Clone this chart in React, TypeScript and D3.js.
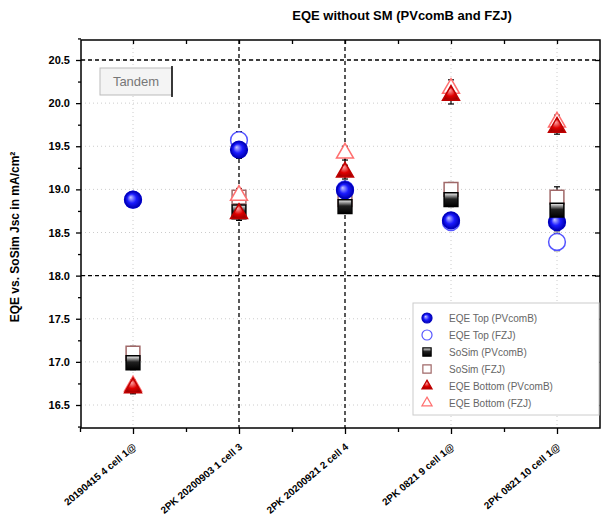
import React, { useEffect, useRef } from "react";
import * as d3 from "d3";

const categories = [
  "20190415 4 cell 1@",
  "2PK 20200903 1 cell 3",
  "2PK 20200921 2 cell 4",
  "2PK 0821 9 cell 1@",
  "2PK 0821 10 cell 1@",
];
const yTicks = [16.5, 17.0, 17.5, 18.0, 18.5, 19.0, 19.5, 20.0, 20.5];

const eqeTopPV = [18.88, 19.46, 18.99, 18.64, 18.62];
const eqeTopFZJ = [18.88, 19.57, 19.0, 18.62, 18.39];
const soSimPV = [16.99, 18.74, 18.8, 18.88, 18.76];
const soSimFZJ = [17.1, 18.91, 18.88, 19.0, 18.91];
const eqeBotPV = [16.7, 18.72, 19.2, 20.09, 19.72];
const eqeBotFZJ = [16.72, 18.93, 19.42, 20.17, 19.78];
const errTop = [0.08, 0.1, 0.08, 0.06, 0.1];
const errSoSim = [0.08, 0.08, 0.06, 0.08, 0.12];
const errBot = [0.07, 0.08, 0.08, 0.1, 0.08];

export default function App() {
  const ref = useRef<SVGSVGElement>(null);

  useEffect(() => {
    document.body.style.margin = "0";
    const svg = d3.select(ref.current);
    svg.selectAll("*").remove();

    const left = 81, right = 600, top = 40, bottom = 428;
    const x = d3.scaleLinear().domain([0.5, 5.5]).range([80, 610]);
    const y = d3.scaleLinear().domain([16.5, 20.5]).range([405, 60]);
    const font = "Liberation Sans, Arial, sans-serif";

    const defs = svg.append("defs");
    const rg = defs.append("radialGradient").attr("id", "gBlue").attr("fx", "0.35").attr("fy", "0.35");
    rg.append("stop").attr("offset", "0%").attr("stop-color", "#c8c8ff");
    rg.append("stop").attr("offset", "55%").attr("stop-color", "#1a1aff");
    rg.append("stop").attr("offset", "100%").attr("stop-color", "#0000b0");
    const lg = defs.append("linearGradient").attr("id", "gBlack").attr("x1", 0).attr("y1", 0).attr("x2", 0).attr("y2", 1);
    lg.append("stop").attr("offset", "0%").attr("stop-color", "#ffffff");
    lg.append("stop").attr("offset", "45%").attr("stop-color", "#202020");
    lg.append("stop").attr("offset", "100%").attr("stop-color", "#000");
    const rr = defs.append("radialGradient").attr("id", "gRed").attr("fx", "0.4").attr("fy", "0.3");
    rr.append("stop").attr("offset", "0%").attr("stop-color", "#ffb0b0");
    rr.append("stop").attr("offset", "60%").attr("stop-color", "#e00000");
    rr.append("stop").attr("offset", "100%").attr("stop-color", "#a00000");

    // grid
    const g = svg.append("g");
    g.selectAll(".hg").data(yTicks).join("line")
      .attr("x1", left).attr("x2", right)
      .attr("y1", d => y(d)).attr("y2", d => y(d))
      .attr("stroke", "#ccc").attr("stroke-dasharray", "1,3");
    g.selectAll(".vg").data([1, 4, 5]).join("line")
      .attr("x1", d => x(d)).attr("x2", d => x(d))
      .attr("y1", top).attr("y2", bottom)
      .attr("stroke", "#ccc").attr("stroke-dasharray", "1,3");

    // dashed reference lines
    g.selectAll(".hd").data([20.5, 18.0]).join("line")
      .attr("x1", left).attr("x2", right)
      .attr("y1", d => y(d)).attr("y2", d => y(d))
      .attr("stroke", "#000").attr("stroke-width", 1.3).attr("stroke-dasharray", "4,3");
    g.selectAll(".vd").data([2, 3]).join("line")
      .attr("x1", d => x(d)).attr("x2", d => x(d))
      .attr("y1", top).attr("y2", bottom)
      .attr("stroke", "#000").attr("stroke-width", 1.3).attr("stroke-dasharray", "4,3");

    // frame and axes
    svg.append("rect").attr("x", left).attr("y", top).attr("width", right - left).attr("height", bottom - top)
      .attr("fill", "none").attr("stroke", "#000").attr("stroke-width", 1.5);

    const minorY = d3.range(16.25, 20.76, 0.5);
    svg.append("g").attr("transform", `translate(${left},0)`)
      .call(d3.axisLeft(y).tickValues(yTicks).tickFormat(d3.format(".1f")).tickSize(5).tickPadding(6))
      .call(a => a.select(".domain").remove())
      .call(a => a.selectAll("text").attr("font-family", font).attr("font-size", 11).attr("font-weight", "bold"));
    svg.append("g").attr("transform", `translate(${left},0)`)
      .call(d3.axisLeft(y).tickValues(minorY).tickFormat(() => "").tickSize(3))
      .call(a => a.select(".domain").remove());
    svg.append("g").attr("transform", `translate(${right},0)`)
      .call(d3.axisLeft(y).tickValues(yTicks).tickFormat(() => "").tickSize(5))
      .call(a => a.select(".domain").remove());

    const xTicks = [1, 2, 3, 4, 5];
    const xb = svg.append("g").attr("transform", `translate(0,${bottom})`)
      .call(d3.axisBottom(x).tickValues(xTicks).tickFormat(() => "").tickSize(6))
      .call(a => a.select(".domain").remove());
    svg.append("g").attr("transform", `translate(0,${bottom})`)
      .call(d3.axisBottom(x).tickValues([0.5, 1.5, 2.5, 3.5, 4.5]).tickFormat(() => "").tickSize(4))
      .call(a => a.select(".domain").remove());
    svg.append("g").attr("transform", `translate(0,${top})`)
      .call(d3.axisBottom(x).tickValues([1, 1.5, 2, 2.5, 3, 3.5, 4, 4.5, 5]).tickFormat(() => "").tickSize(4))
      .call(a => a.select(".domain").remove());
    svg.selectAll(".tick line").attr("stroke-width", 1.3);

    xb.selectAll(".xl").data(categories).join("text")
      .attr("transform", (d, i) => `translate(${x(i + 1) + 4},${20}) rotate(-40)`)
      .attr("text-anchor", "end")
      .attr("font-family", font).attr("font-size", 10).attr("font-weight", "bold")
      .attr("fill", "#000")
      .text(d => d);

    // error bars
    const allSeries = [
      { v: eqeTopFZJ, e: errTop }, { v: eqeTopPV, e: errTop },
      { v: soSimFZJ, e: errSoSim }, { v: soSimPV, e: errSoSim },
      { v: eqeBotFZJ, e: errBot }, { v: eqeBotPV, e: errBot },
    ];
    const eg = svg.append("g");
    allSeries.forEach(s => {
      s.v.forEach((v, i) => {
        const cx = x(i + 1);
        eg.append("line").attr("x1", cx).attr("x2", cx).attr("y1", y(v - s.e[i])).attr("y2", y(v + s.e[i]))
          .attr("stroke", "#000").attr("stroke-width", 1.2);
        [v - s.e[i], v + s.e[i]].forEach(c => eg.append("line")
          .attr("x1", cx - 3).attr("x2", cx + 3).attr("y1", y(c)).attr("y2", y(c))
          .attr("stroke", "#000").attr("stroke-width", 1.2));
      });
    });

    const sym = {
      circle: d3.symbol(d3.symbolCircle, 220)(),
      square: d3.symbol(d3.symbolSquare, 190)(),
      triangle: d3.symbol(d3.symbolTriangle, 125)(),
    };
    const styles = [
      { name: "EQE Top (PVcomB)", shape: sym.circle, fill: "url(#gBlue)", stroke: "#0000c0" },
      { name: "EQE Top (FZJ)", shape: sym.circle, fill: "#fff", stroke: "#5555ff" },
      { name: "SoSim (PVcomB)", shape: sym.square, fill: "url(#gBlack)", stroke: "#000" },
      { name: "SoSim (FZJ)", shape: sym.square, fill: "#fff", stroke: "#a06868" },
      { name: "EQE Bottom (PVcomB)", shape: sym.triangle, fill: "url(#gRed)", stroke: "#c00000" },
      { name: "EQE Bottom (FZJ)", shape: sym.triangle, fill: "#fff", stroke: "#ff7070" },
    ];
    const seriesData = [eqeTopPV, eqeTopFZJ, soSimPV, soSimFZJ, eqeBotPV, eqeBotFZJ];
    const drawOrder = [1, 3, 5, 0, 2, 4];
    const mg = svg.append("g");
    drawOrder.forEach(k => {
      mg.selectAll(null).data(seriesData[k]).join("path")
        .attr("d", styles[k].shape)
        .attr("transform", (d, i) => `translate(${x(i + 1)},${y(d)})`)
        .attr("fill", styles[k].fill).attr("stroke", styles[k].stroke).attr("stroke-width", 1.5);
    });

    // Tandem label
    svg.append("rect").attr("x", 100).attr("y", 68).attr("width", 72).attr("height", 27)
      .attr("fill", "#f4f4f4").attr("stroke", "#bbb");
    svg.append("line").attr("x1", 172).attr("x2", 172).attr("y1", 66).attr("y2", 97).attr("stroke", "#000").attr("stroke-width", 1.5);
    svg.append("text").attr("x", 136).attr("y", 86).attr("text-anchor", "middle")
      .attr("font-family", font).attr("font-size", 13).attr("fill", "#777").text("Tandem");

    // legend
    const lgd = svg.append("g");
    lgd.append("rect").attr("x", 413).attr("y", 303).attr("width", 186).attr("height", 112)
      .attr("fill", "#fff").attr("stroke", "#ccc");
    styles.forEach((s, i) => {
      const ly = 318 + i * 17;
      lgd.append("path").attr("d", s.shape).attr("transform", `translate(427,${ly}) scale(0.6)`)
        .attr("fill", s.fill).attr("stroke", s.stroke).attr("stroke-width", 2);
      lgd.append("text").attr("x", 449).attr("y", ly + 3.5)
        .attr("font-family", font).attr("font-size", 10).attr("fill", "#666").text(s.name);
    });

    // titles
    svg.append("text").attr("x", 402).attr("y", 20).attr("text-anchor", "middle")
      .attr("font-family", font).attr("font-size", 13).attr("font-weight", "bold")
      .text("EQE without SM (PVcomB and FZJ)");
    svg.append("text").attr("transform", "translate(19,237) rotate(-90)").attr("text-anchor", "middle")
      .attr("font-family", font).attr("font-size", 12).attr("font-weight", "bold")
      .text("EQE vs. SoSim Jsc in mA/cm²");
  }, []);

  return <svg ref={ref} width={603} height={525} style={{ display: "block" }}></svg>;
}
